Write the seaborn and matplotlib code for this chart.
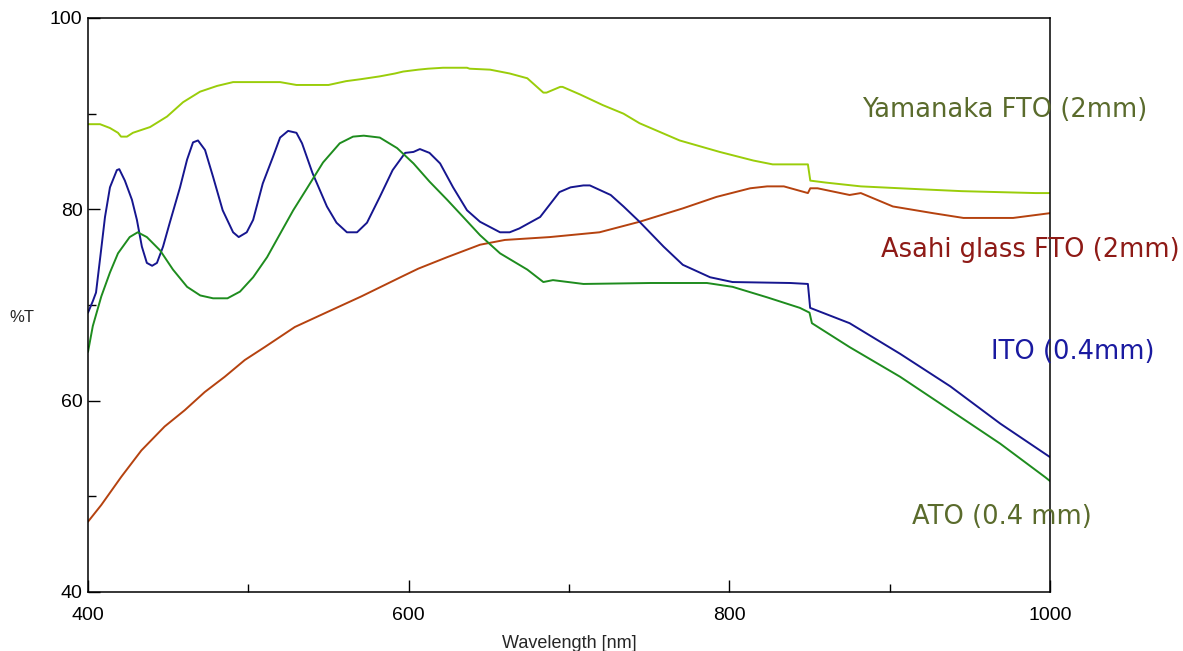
import matplotlib
matplotlib.use("Agg")
import matplotlib.pyplot as plt
import seaborn as sns
import pandas as pd
from matplotlib.ticker import MultipleLocator

# ---------------- data ----------------
yam_wl = [400, 407.5, 413.7, 418.7, 420.6, 424.3, 428, 438.7, 449.3, 459.3, 469.9, 480.5,
          490.5, 519.8, 530, 550, 561, 570, 582, 591.5, 596.5, 606, 612, 621.5, 636.4,
          638, 650.8, 663, 674, 680, 684, 686, 694.5, 696, 707, 721, 734, 744, 769,
          794, 815, 827, 849, 850.5, 860, 882, 919, 945, 991, 1000]
yam_t = [88.9, 88.9, 88.5, 88.0, 87.6, 87.6, 88.0, 88.6, 89.7, 91.2, 92.3, 92.9,
         93.3, 93.3, 93.0, 93.0, 93.4, 93.6, 93.9, 94.2, 94.4, 94.6, 94.7, 94.8, 94.8,
         94.7, 94.6, 94.2, 93.7, 92.8, 92.2, 92.2, 92.8, 92.8, 92.0, 90.9, 90.0, 89.0, 87.2,
         86.0, 85.1, 84.7, 84.7, 83.0, 82.8, 82.4, 82.1, 81.9, 81.7, 81.7]

asa_wl = [400, 408.3, 420.8, 433.3, 447.8, 460.3, 472.8, 485.3, 497.8, 510.2, 529,
          549.7, 570.5, 595.5, 606, 624, 644.5, 660, 688, 719, 744, 771, 792, 813,
          823.6, 834, 849, 850.5, 855, 875, 882, 902, 927, 946, 977, 1000]
asa_t = [47.35, 49.1, 52.05, 54.8, 57.3, 59.0, 60.9, 62.5, 64.25, 65.6, 67.7,
         69.3, 70.9, 72.95, 73.8, 75.0, 76.3, 76.8, 77.1, 77.6, 78.7, 80.1, 81.3, 82.2,
         82.4, 82.4, 81.7, 82.2, 82.2, 81.5, 81.7, 80.3, 79.6, 79.1, 79.1, 79.6]

ito_wl = [400, 403, 405, 408, 410.6, 413.7, 418, 419.5, 423, 427.4, 430.5, 433.6, 436.7,
          440, 443, 446.8, 451, 457.4, 461.8, 465.5, 468.6, 473, 478, 484, 490.5, 494,
          499, 503, 509, 515.4, 519.8, 524.8, 530, 533.5, 540, 549, 555, 561.5, 567.8,
          574, 582, 590, 597.8, 603, 607, 613, 619.6, 627.7, 636.4, 644.5, 657, 663,
          669, 682, 694, 701, 709, 713, 726, 734, 744, 759, 771, 788, 802, 838, 849,
          850.4, 875, 906.5, 937.8, 969, 1000]
ito_t = [69.2, 70.4, 71.3, 75.5, 79.2, 82.3, 84.1, 84.2, 83.0, 81.0, 78.9, 76.1, 74.4,
         74.1, 74.4, 76.1, 78.6, 82.3, 85.2, 87.0, 87.2, 86.2, 83.4, 79.9, 77.6, 77.1,
         77.6, 78.9, 82.7, 85.5, 87.5, 88.2, 88.0, 86.9, 83.8, 80.3, 78.6, 77.6, 77.6,
         78.6, 81.3, 84.1, 85.9, 86.0, 86.3, 85.9, 84.8, 82.3, 79.9, 78.7, 77.6, 77.6,
         78.0, 79.2, 81.8, 82.3, 82.5, 82.5, 81.5, 80.3, 78.7, 76.1, 74.2, 72.9, 72.4,
         72.3, 72.2, 69.7, 68.1, 64.9, 61.5, 57.6, 54.1]

ato_wl = [400, 403, 408.3, 413.7, 418.7, 426, 431, 436.7, 445, 453, 461.8, 470, 478, 487,
          494.8, 503, 511.7, 520, 528, 536.6, 546.6, 557, 565.3, 572, 582, 592.8, 603,
          613, 624, 634, 644.5, 657, 674, 684, 690, 709, 751, 786, 802, 823.6, 844, 850,
          851.5, 875, 906.5, 937.8, 969, 997, 1000]
ato_t = [65.1, 67.8, 70.9, 73.4, 75.4, 77.1, 77.6, 77.1, 75.7, 73.7, 71.9, 71.0, 70.7,
         70.7, 71.4, 72.9, 75.0, 77.5, 79.9, 82.2, 84.9, 86.9, 87.6, 87.7, 87.5, 86.4,
         84.8, 82.9, 81.0, 79.2, 77.3, 75.4, 73.7, 72.4, 72.6, 72.2, 72.3, 72.3, 71.9,
         70.8, 69.7, 69.2, 68.1, 65.6, 62.5, 59.0, 55.5, 52.0, 51.6]

series_names = ["Yamanaka FTO (2mm)", "Asahi glass FTO (2mm)", "ITO (0.4mm)", "ATO (0.4 mm)"]
line_colors = ["#9ACD0A", "#B5420F", "#16168F", "#1E8C1E"]
label_colors = ["#5A6B2C", "#8E1A16", "#1A1AA0", "#5A6B2C"]
label_pos = [(972, 90.4), (987.5, 75.75), (1014.5, 65.1), (970, 47.8)]

x_ticks = [400, 600, 800, 1000]
y_ticks = [40, 60, 80, 100]

frames = []
for name, wl, t in zip(series_names, [yam_wl, asa_wl, ito_wl, ato_wl],
                       [yam_t, asa_t, ito_t, ato_t]):
    frames.append(pd.DataFrame({"wl": wl, "T": t, "series": name}))
df = pd.concat(frames, ignore_index=True)

# ---------------- plot ----------------
sns.set_theme(style="white")
plt.rcParams["font.family"] = ["Liberation Sans", "DejaVu Sans"]

fig = plt.figure(figsize=(11.83, 6.51), dpi=100)
ax = fig.add_axes([88 / 1183, 1 - 592 / 651, (1050 - 88) / 1183, (592 - 18) / 651])

sns.lineplot(data=df, x="wl", y="T", hue="series", palette=dict(zip(series_names, line_colors)),
             estimator=None, sort=False, linewidth=1.4, legend=False, ax=ax)

ax.set_xlim(400, 1000)
ax.set_ylim(40, 100)
ax.set_xticks(x_ticks)
ax.set_yticks(y_ticks)
ax.xaxis.set_minor_locator(MultipleLocator(100))
ax.yaxis.set_minor_locator(MultipleLocator(10))
ax.tick_params(which="major", direction="in", length=8.6, width=1.0, color="black",
               labelsize=14, labelcolor="black")
ax.tick_params(which="minor", direction="in", length=5.8, width=1.0, color="black")
ax.tick_params(axis="x", which="major", pad=11)
ax.tick_params(axis="y", which="major", pad=4)
ax.tick_params(axis="both", which="both", top=False, right=False, bottom=True, left=True)
for sp in ax.spines.values():
    sp.set_visible(True)
    sp.set_color("black")
    sp.set_linewidth(1.1)

ax.set_xlabel("Wavelength [nm]", fontsize=13)
ax.set_ylabel("")
ax.xaxis.set_label_coords(0.5, -0.075)
fig.text(22 / 1183, 1 - 318 / 651, "%T", fontsize=12, ha="center", va="center")

for name, col, (lx, ly) in zip(series_names, label_colors, label_pos):
    ax.text(lx, ly, name, color=col, fontsize=18.5, ha="center", va="center",
            family=["DejaVu Sans"], clip_on=False, zorder=5)

fig.savefig("out.png", dpi=100)
